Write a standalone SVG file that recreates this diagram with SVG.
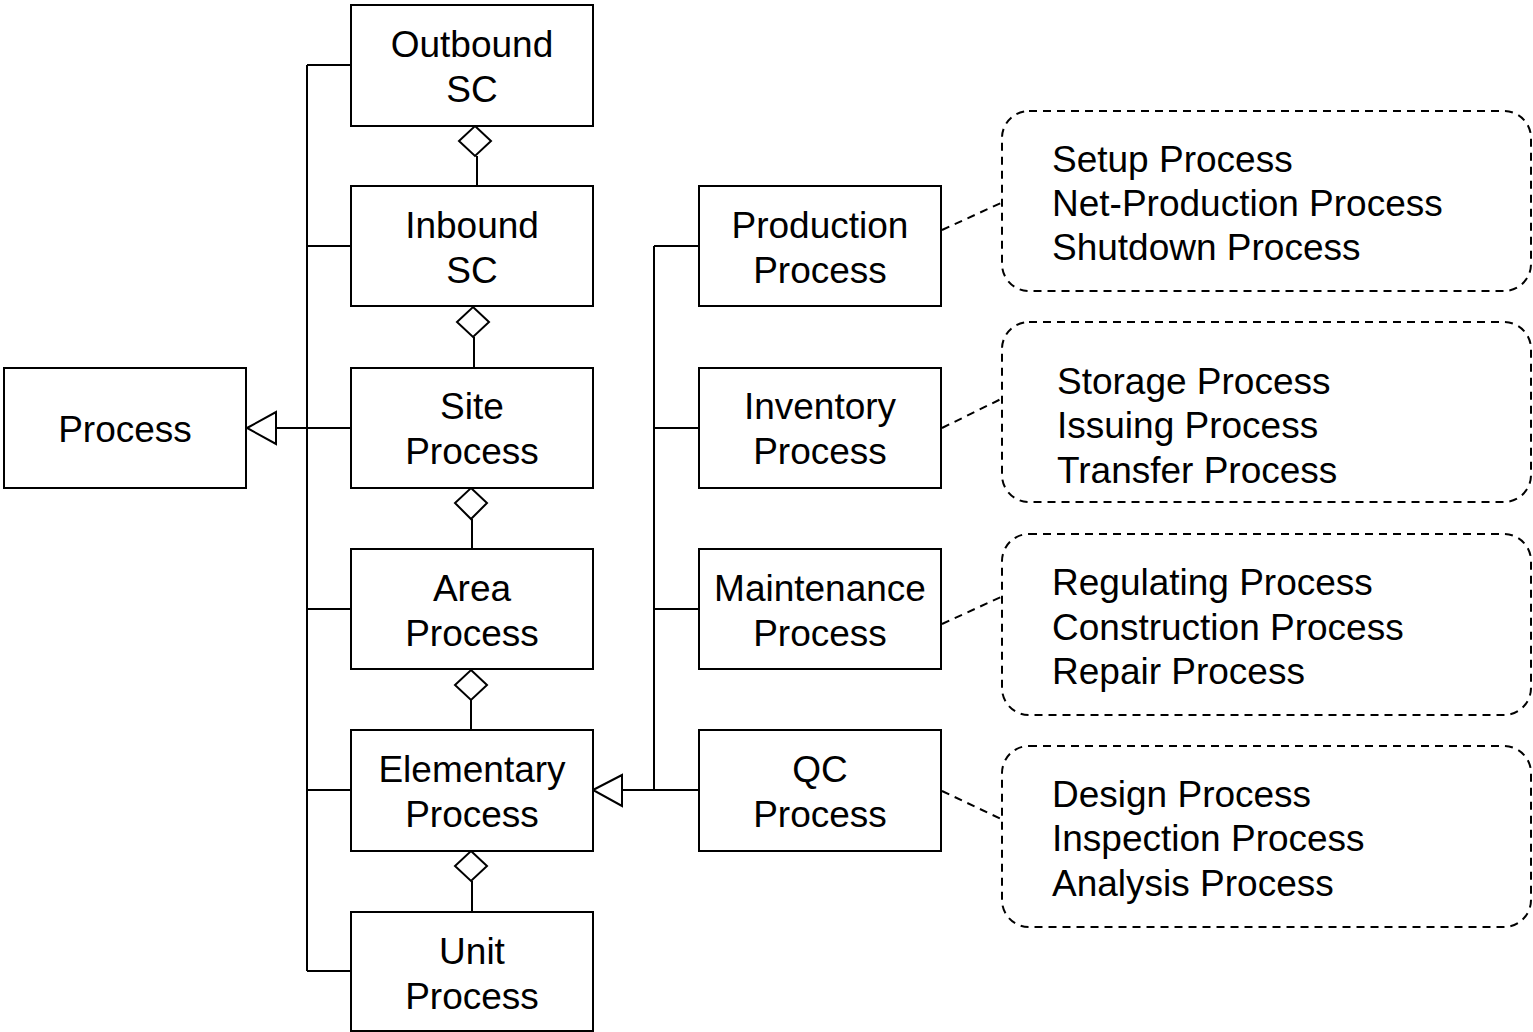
<svg xmlns="http://www.w3.org/2000/svg" width="1533" height="1032" viewBox="0 0 1533 1032">
<style>
.box{fill:#fff;stroke:#000;stroke-width:2}
.note{fill:#fff;stroke:#000;stroke-width:2;stroke-dasharray:8 6}
.ln{fill:none;stroke:#000;stroke-width:2}
.dl{fill:none;stroke:#000;stroke-width:2;stroke-dasharray:8 6}
.hd{fill:#fff;stroke:#000;stroke-width:2}
text{font-family:"Liberation Sans",Arial,sans-serif;font-size:37px;fill:#000}
.c{text-anchor:middle}
</style>
<rect width="1533" height="1032" fill="#fff"/>
<g id="connectors">
<path class="ln" d="M307 65V971M307 65H351M307 246H351M307 428H351M307 609H351M307 790H351M307 971H351M276 428H351"/>
<polygon class="hd" points="247,428 276,412 276,444"/>
<path class="ln" d="M654 246V790M654 246H699M654 428H699M654 609H699M622 790H699"/>
<polygon class="hd" points="593,790 622,775 622,806"/>
<path class="ln" d="M477 156V186M474 337V368M472 519V549M471 700V730M472 881V912"/>
<polygon class="hd" points="475,126 491,141 475,156 459,141"/>
<polygon class="hd" points="473,307 489,322 473,337 457,322"/>
<polygon class="hd" points="471,488 487,503 471,519 455,503"/>
<polygon class="hd" points="471,670 487,685 471,700 455,685"/>
<polygon class="hd" points="471,851 487,866 471,881 455,866"/>
<path class="dl" d="M942 230L1001 203M942 428L1001 399M942 624L1001 597M942 791L1001 819"/>
</g>
<g id="process"><rect class="box" x="4" y="368" width="242" height="120"/><text class="c" x="125" y="442">Process</text></g>
<g id="outbound"><rect class="box" x="351" y="5" width="242" height="121"/><text class="c" x="472" y="57">Outbound</text><text class="c" x="472" y="102">SC</text></g>
<g id="inbound"><rect class="box" x="351" y="186" width="242" height="120"/><text class="c" x="472" y="238">Inbound</text><text class="c" x="472" y="283">SC</text></g>
<g id="site"><rect class="box" x="351" y="368" width="242" height="120"/><text class="c" x="472" y="419">Site</text><text class="c" x="472" y="464">Process</text></g>
<g id="area"><rect class="box" x="351" y="549" width="242" height="120"/><text class="c" x="472" y="601">Area</text><text class="c" x="472" y="646">Process</text></g>
<g id="elementary"><rect class="box" x="351" y="730" width="242" height="121"/><text class="c" x="472" y="782">Elementary</text><text class="c" x="472" y="827">Process</text></g>
<g id="unit"><rect class="box" x="351" y="912" width="242" height="119"/><text class="c" x="472" y="964">Unit</text><text class="c" x="472" y="1009">Process</text></g>
<g id="production"><rect class="box" x="699" y="186" width="242" height="120"/><text class="c" x="820" y="238">Production</text><text class="c" x="820" y="283">Process</text></g>
<g id="inventory"><rect class="box" x="699" y="368" width="242" height="120"/><text class="c" x="820" y="419">Inventory</text><text class="c" x="820" y="464">Process</text></g>
<g id="maintenance"><rect class="box" x="699" y="549" width="242" height="120"/><text class="c" x="820" y="601">Maintenance</text><text class="c" x="820" y="646">Process</text></g>
<g id="qc"><rect class="box" x="699" y="730" width="242" height="121"/><text class="c" x="820" y="782">QC</text><text class="c" x="820" y="827">Process</text></g>
<g id="note-production"><rect class="note" x="1002" y="111" width="529" height="180" rx="27"/><text x="1052" y="172">Setup Process</text><text x="1052" y="216">Net-Production Process</text><text x="1052" y="260">Shutdown Process</text></g>
<g id="note-inventory"><rect class="note" x="1002" y="322" width="529" height="180" rx="27"/><text x="1057" y="394">Storage Process</text><text x="1057" y="438">Issuing Process</text><text x="1057" y="483">Transfer Process</text></g>
<g id="note-maintenance"><rect class="note" x="1002" y="534" width="529" height="181" rx="27"/><text x="1052" y="595">Regulating Process</text><text x="1052" y="640">Construction Process</text><text x="1052" y="684">Repair Process</text></g>
<g id="note-qc"><rect class="note" x="1002" y="746" width="529" height="181" rx="27"/><text x="1052" y="807">Design Process</text><text x="1052" y="851">Inspection Process</text><text x="1052" y="896">Analysis Process</text></g>
</svg>
